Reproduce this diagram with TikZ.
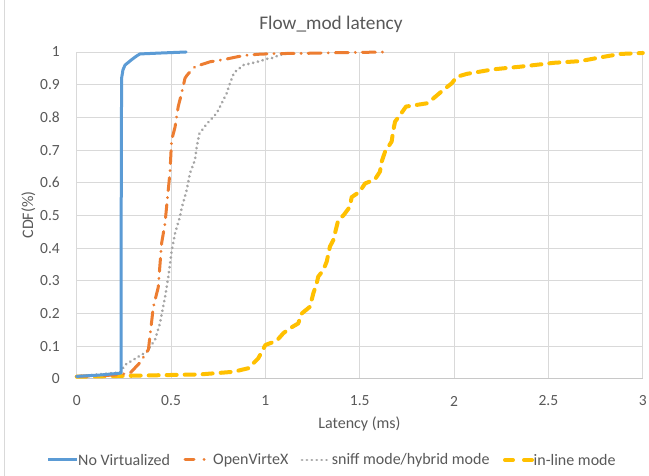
\documentclass[tikz,border=0pt]{standalone}
\usepackage{fontspec}
\setmainfont{Carlito}
\definecolor{cblue}{HTML}{5B9BD5}
\definecolor{corange}{HTML}{ED7D31}
\definecolor{cgray}{HTML}{A5A5A5}
\definecolor{cyellow}{HTML}{FFC000}
\definecolor{gridc}{HTML}{D9D9D9}
\definecolor{axisc}{HTML}{C8C8C8}
\definecolor{txt}{HTML}{595959}
\tikzset{
  ticklab/.style={text=txt, inner sep=0pt, font=\fontsize{15.5}{18}\selectfont},
  labtext/.style={text=txt, inner sep=0pt, font=\fontsize{16}{19}\selectfont},
  gridline/.style={draw=gridc, line width=0.8pt},
  novirt/.style={draw=cblue, line width=3pt, line join=round, line cap=round},
  ovx/.style={draw=corange, line width=3pt, line join=round, line cap=round,
    dash pattern=on 13pt off 7pt on 0.1pt off 7pt},
  sniff/.style={draw=cgray, line width=2.9pt, line join=round, line cap=round,
    dash pattern=on 0.1pt off 4.8pt},
  inline/.style={draw=cyellow, line width=4pt, line join=round, line cap=round,
    dash pattern=on 10pt off 8pt},
}
\begin{document}
\begin{tikzpicture}[x=1pt,y=1pt]
\useasboundingbox[fill=white] (0,0) rectangle (649,476);
% chart frame edge on the left
\draw[gridc, line width=0.8pt] (4.3,0) -- (4.3,476);

% plot area in data units
\begin{scope}[shift={(76.7pt,97pt)}, x=188.7pt, y=327pt]
  % horizontal grid
  \foreach \v in {0.1,0.2,...,1.0} \draw[gridline] (0,\v) -- (3,\v);
  % vertical grid
  \foreach \u in {0,0.5,...,3} \draw[gridline] (\u,0) -- (\u,1);
  \draw[axisc, line width=1pt] (0,0) -- (3,0);

  % y tick labels
  \foreach \v/\t [count=\i] in {0/0,0.1/0.1,0.2/0.2,0.3/0.3,0.4/0.4,0.5/0.5,0.6/0.6,0.7/0.7,0.8/0.8,0.9/0.9,1/1}
    \node[ticklab, anchor=east] (yl\i) at ([xshift=-16.7pt]0,\v) {\t};
  % x tick labels
  \foreach \u/\t [count=\i] in {0/0,0.5/0.5,1/1,1.5/1.5,2/2,2.5/2.5,3/3}
    \node[ticklab] (xl\i) at ([yshift=-22pt]\u,0) {\t};

  % in-line mode
  \draw[inline] plot coordinates {(0,0.007) (0.3,0.01) (0.654,0.014) (0.83,0.022) (0.91,0.033) (0.962,0.063) (1.0,0.104) (1.06,0.117) (1.095,0.14) (1.13,0.155) (1.174,0.17) (1.192,0.2) (1.236,0.221) (1.254,0.262) (1.272,0.293) (1.28,0.313) (1.307,0.333) (1.325,0.359) (1.342,0.405) (1.36,0.425) (1.386,0.486) (1.413,0.5) (1.448,0.527) (1.457,0.556) (1.5,0.573) (1.528,0.598) (1.58,0.61) (1.607,0.634) (1.616,0.664) (1.634,0.695) (1.669,0.726) (1.678,0.761) (1.687,0.787) (1.717,0.81) (1.745,0.833) (1.80,0.838) (1.855,0.843) (1.89,0.858) (1.943,0.884) (1.987,0.904) (2.014,0.924) (2.067,0.933) (2.208,0.947) (2.35,0.955) (2.53,0.967) (2.667,0.972) (2.79,0.985) (2.88,0.994) (3.0,0.997)};

  % sniff mode / hybrid mode
  \draw[sniff] plot coordinates {(0,0.008) (0.23,0.02) (0.256,0.043) (0.326,0.068) (0.371,0.083) (0.415,0.12) (0.441,0.17) (0.468,0.25) (0.485,0.31) (0.503,0.39) (0.521,0.445) (0.547,0.496) (0.556,0.522) (0.583,0.578) (0.6,0.629) (0.627,0.67) (0.636,0.71) (0.65,0.75) (0.689,0.78) (0.742,0.813) (0.777,0.853) (0.795,0.874) (0.812,0.904) (0.834,0.937) (0.856,0.947) (0.883,0.96) (0.936,0.967) (0.971,0.972) (1.007,0.979) (1.033,0.981) (1.068,0.989) (1.095,0.994) (1.12,0.998)};

  % OpenVirteX
  \draw[ovx] plot coordinates {(0,0.008) (0.2,0.012) (0.283,0.018) (0.335,0.05) (0.38,0.09) (0.406,0.22) (0.432,0.28) (0.45,0.415) (0.468,0.476) (0.477,0.53) (0.494,0.63) (0.503,0.73) (0.521,0.77) (0.538,0.833) (0.556,0.874) (0.574,0.92) (0.586,0.93) (0.627,0.955) (0.706,0.97) (0.79,0.978) (0.856,0.986) (0.9,0.99) (0.962,0.993) (1.04,0.995) (1.22,0.996) (1.395,0.998) (1.65,1)};

  % No Virtualized
  \draw[novirt] plot coordinates {(0,0.008) (0.12,0.012) (0.235,0.018) (0.235,0.3) (0.237,0.77) (0.238,0.92) (0.245,0.945) (0.256,0.96) (0.29,0.976) (0.318,0.988) (0.335,0.994) (0.45,0.997) (0.58,1)};
\end{scope}

% titles
\node[text=txt, inner sep=0pt, font=\fontsize{19.3}{22}\selectfont, anchor=base] (title) at (331,446) {Flow\_mod latency};
\node[labtext] (xtitle) at (359.5,52) {Latency (ms)};
\node[labtext, rotate=90] (ytitle) at (28.5,261) {CDF(\%)};

% legend
\coordinate (l1a) at (48.3,16); \coordinate (l1b) at (76.7,16);
\draw[novirt, line cap=butt] (l1a) -- (l1b);
\node[labtext, anchor=west] (leg1) at (78,16) {No Virtualized};
\coordinate (l2a) at (185,16); \coordinate (l2b) at (212,16);
\draw[ovx, dash pattern=on 9pt off 10pt on 0.1pt off 10pt] (l2a) -- (l2b);
\node[labtext, anchor=west] (leg2) at (213,16) {OpenVirteX};
\coordinate (l3a) at (302,16); \coordinate (l3b) at (330,16);
\draw[sniff] (l3a) -- (l3b);
\node[labtext, anchor=west] (leg3) at (331.7,16) {sniff mode/hybrid mode};
\coordinate (l4a) at (505,16); \coordinate (l4b) at (533,16);
\draw[inline, dash pattern=on 8pt off 11pt] (l4a) -- (l4b);
\node[labtext, anchor=west] (leg4) at (533.5,16) {in-line mode};
\end{tikzpicture}
\end{document}
